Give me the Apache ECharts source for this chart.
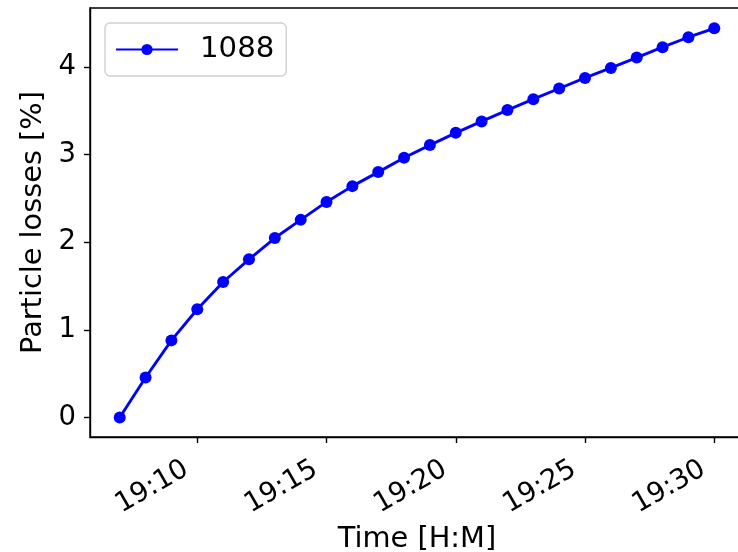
<!DOCTYPE html>
<html>
<head>
<meta charset="utf-8">
<script src="https://cdn.jsdelivr.net/npm/echarts@6/dist/echarts.min.js"></script>
<style>html,body{margin:0;padding:0;background:#fff;}#c{width:738px;height:552px;}</style>
</head>
<body>
<div id="c"></div>
<script>
// minutes after 19:00
const minutes = [7, 8, 9, 10, 11, 12, 13, 14, 15, 16, 17, 18, 19, 20, 21, 22, 23, 24, 25, 26, 27, 28, 29, 30];
const losses = [0.0, 0.456, 0.88, 1.235, 1.546, 1.805, 2.048, 2.255, 2.46, 2.64, 2.80, 2.963, 3.108, 3.248, 3.378, 3.508, 3.632, 3.754, 3.875, 3.989, 4.107, 4.225, 4.339, 4.441];
const xTicks = [10, 15, 20, 25, 30];
const yTicks = [0, 1, 2, 3, 4];
const seriesName = '1088';

const FONT = 'DejaVu Sans';
const FS = 28.8;
const FT = 27.5;
const fmtTime = v => '19:' + String(Math.round(v)).padStart(2, '0');
const data = minutes.map((m, i) => [m, losses[i]]);

const chart = echarts.init(document.getElementById('c'), null, {renderer: 'canvas'});
chart.setOption({
  animation: false,
  backgroundColor: '#ffffff',
  textStyle: {fontFamily: FONT},
  grid: {left: 90, top: 8, width: 654, height: 429, show: true, borderColor: '#000', borderWidth: 1.4, backgroundColor: 'transparent', containLabel: false, outerBoundsMode: 'none'},
  legend: {
    left: 105, top: 23,
    padding: [12, 12, 12, 10],
    itemWidth: 62, itemHeight: 14,
    backgroundColor: 'rgba(255,255,255,0.8)',
    borderColor: '#d0d0d0', borderWidth: 1.4, borderRadius: 5,
    textStyle: {fontFamily: FONT, fontSize: 29.2, color: '#000', padding: [0, 0, 0, 17]},
    data: [seriesName]
  },
  xAxis: {
    type: 'value', min: 5.85, max: 31.15,
    name: 'Time [H:M]', nameLocation: 'middle', nameGap: 70,
    nameTextStyle: {fontFamily: FONT, fontSize: FS, color: '#000'},
    axisLine: {show: true, onZero: false, lineStyle: {color: '#000', width: 1.4}},
    axisTick: {show: true, length: 6, lineStyle: {color: '#000', width: 1.4}, customValues: xTicks},
    axisLabel: {rotate: 30, margin: 24, padding: [0, 12.5, 0, 0], fontFamily: FONT, fontSize: FT, color: '#000', customValues: xTicks, formatter: fmtTime},
    splitLine: {show: false}
  },
  yAxis: {
    type: 'value', min: -0.2225, max: 4.6725,
    name: 'Particle losses [%]', nameLocation: 'middle', nameGap: 42, nameRotate: 90,
    nameTextStyle: {fontFamily: FONT, fontSize: FS, color: '#000'},
    axisLine: {show: true, onZero: false, lineStyle: {color: '#000', width: 1.4}},
    axisTick: {show: true, length: 6, lineStyle: {color: '#000', width: 1.4}, customValues: yTicks},
    axisLabel: {margin: 14, fontFamily: FONT, fontSize: FT, color: '#000', customValues: yTicks},
    splitLine: {show: false}
  },
  series: [{
    name: seriesName, type: 'line', data: data,
    symbol: 'circle', symbolSize: 12,
    lineStyle: {color: '#0000ff', width: 2.9},
    itemStyle: {color: '#0000ff'},
    clip: false
  }]
});
</script>
</body>
</html>
